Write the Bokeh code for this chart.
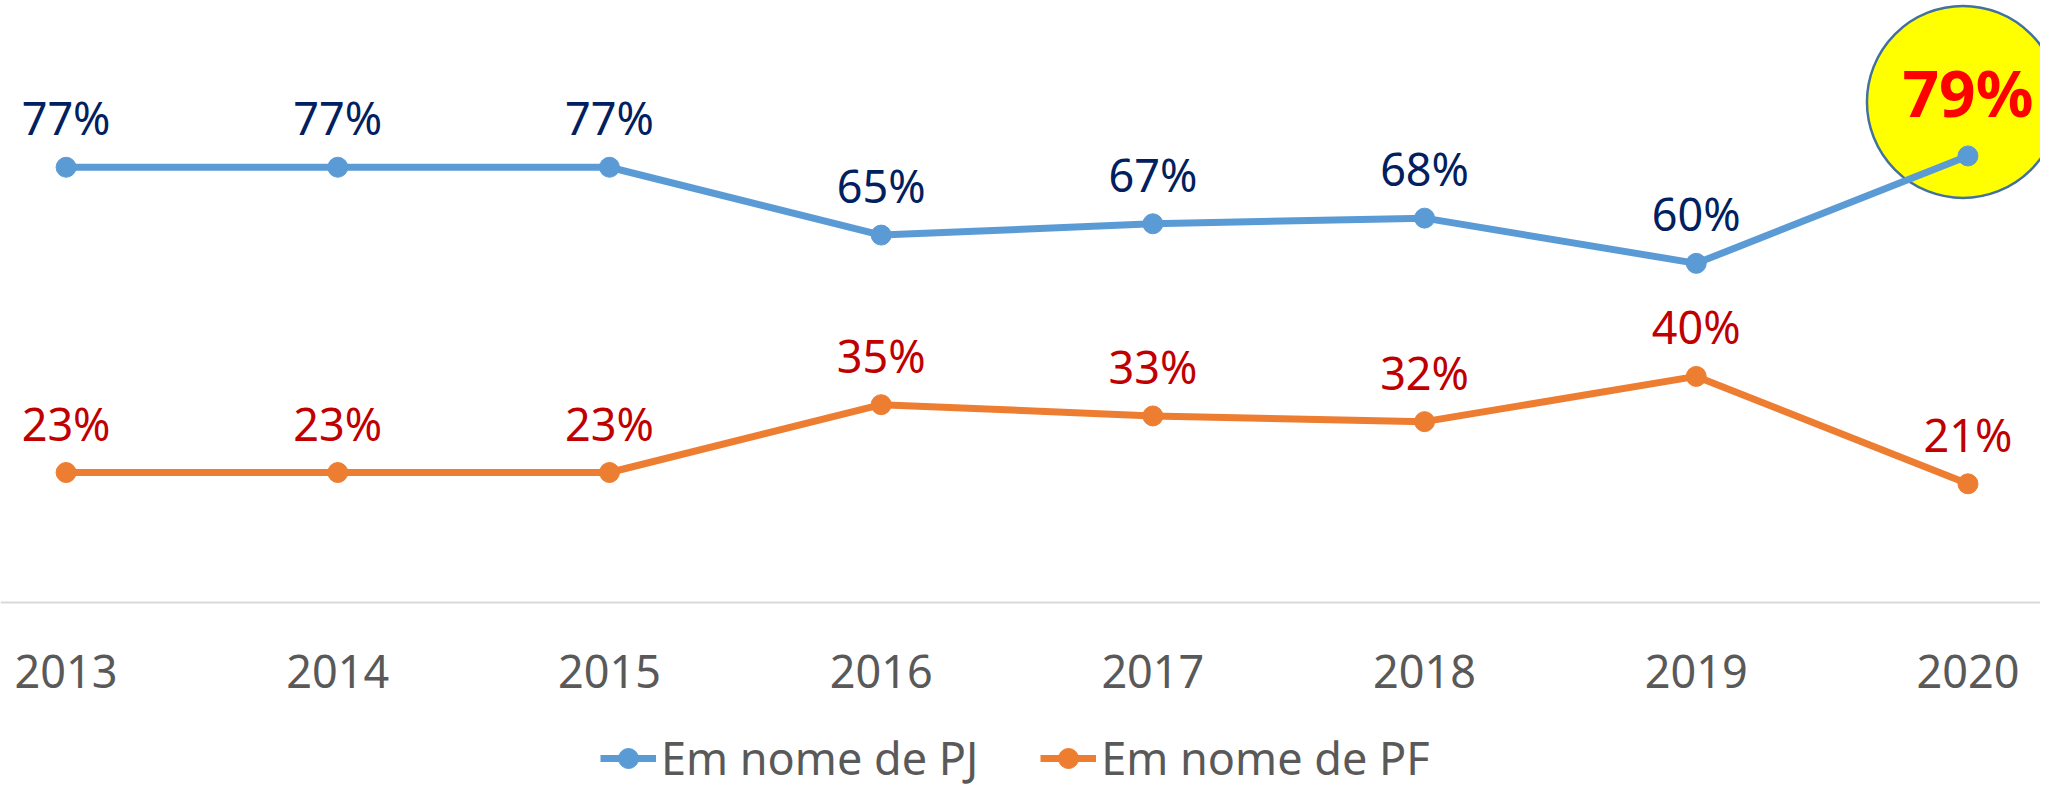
from bokeh.plotting import figure
from bokeh.models import (Range1d, Legend, LegendItem, ColumnDataSource, LabelSet, Span)
from bokeh.core.properties import value
from bokeh.embed import file_html
from bokeh.resources import INLINE

years = ["2013", "2014", "2015", "2016", "2017", "2018", "2019", "2020"]
pj = [77, 77, 77, 65, 67, 68, 60, 79]
pf = [23, 23, 23, 35, 33, 32, 40, 21]
highlight_index = 7
series_names = ["Em nome de PJ", "Em nome de PF"]

FONT = "Noto Sans"
FRAME_W, FRAME_H = 2040, 788
X_START, X_END = -0.2414, 7.267
Y_START, Y_END = -32.9, 106.5
px_per_x = FRAME_W / (X_END - X_START)
px_per_y = FRAME_H / (Y_END - Y_START)

idx = list(range(len(years)))

p = figure(frame_width=FRAME_W, frame_height=FRAME_H, output_backend="svg", toolbar_location=None,
           x_range=Range1d(X_START, X_END), y_range=Range1d(Y_START, Y_END),
           min_border=0, min_border_top=0, min_border_left=0, min_border_right=0, min_border_bottom=0)
p.outline_line_color = None
p.grid.visible = False
p.xaxis.visible = False
p.yaxis.visible = False
p.background_fill_color = "white"
p.border_fill_color = "white"

# category baseline (value axis zero)
p.add_layout(Span(location=0, dimension="width", line_color="#D9D9D9", line_width=2))

# category labels
yr_src = ColumnDataSource(dict(x=idx, y=[0] * len(idx), t=years))
p.add_layout(LabelSet(x="x", y="y", text="t", source=yr_src, y_offset=-85, text_align="center",
                      text_baseline="alphabetic", text_font=value(FONT), text_font_size=value("45px"),
                      text_color="#595959"))

# highlight circle around last PJ point
hx = [idx[highlight_index] + (-5) / px_per_x]
hy = [pj[highlight_index] + 54 / px_per_y]
p.scatter(hx, hy, marker="circle", size=192, fill_color="#FFFF00",
          line_color="#41719C", line_width=2.5)

blue = "#5B9BD5"
orange = "#ED7D31"
l1 = p.line(idx, pj, line_color=blue, line_width=7)
m1 = p.scatter(idx, pj, marker="circle", size=20, fill_color=blue, line_color=blue)
l2 = p.line(idx, pf, line_color=orange, line_width=7)
m2 = p.scatter(idx, pf, marker="circle", size=20, fill_color=orange, line_color=orange)

pj_src = ColumnDataSource(dict(x=idx[:highlight_index], y=pj[:highlight_index],
                               t=[f"{v}%" for v in pj[:highlight_index]]))
pf_src = ColumnDataSource(dict(x=idx, y=pf, t=[f"{v}%" for v in pf]))
hl_src = ColumnDataSource(dict(x=[idx[highlight_index]], y=[pj[highlight_index]],
                               t=[f"{pj[highlight_index]}%"]))

p.add_layout(LabelSet(x="x", y="y", text="t", source=pj_src, y_offset=32, text_align="center",
                      text_baseline="alphabetic", text_font=value(FONT), text_font_size=value("45px"),
                      text_color="#002060"))
p.add_layout(LabelSet(x="x", y="y", text="t", source=pf_src, y_offset=32, text_align="center",
                      text_baseline="alphabetic", text_font=value(FONT), text_font_size=value("45px"),
                      text_color="#C00000"))
p.add_layout(LabelSet(x="x", y="y", text="t", source=hl_src, y_offset=39, text_align="center",
                      text_baseline="alphabetic", text_font=value(FONT), text_font_size=value("64px"),
                      text_font_style="bold", text_color="#FF0000"))

legend = Legend(items=[LegendItem(label=series_names[0], renderers=[l1, m1]),
                       LegendItem(label=series_names[1], renderers=[l2, m2])],
                orientation="horizontal", location=(600, 0))
legend.label_text_font = FONT
legend.label_text_font_size = "45px"
legend.label_text_color = "#595959"
legend.glyph_width = 56
legend.glyph_height = 50
legend.label_standoff = 5
legend.spacing = 62
legend.padding = 0
legend.margin = 0
legend.border_line_color = None
legend.background_fill_alpha = 0
p.add_layout(legend, "center")

open("out.html", "w").write(file_html(p, INLINE))
